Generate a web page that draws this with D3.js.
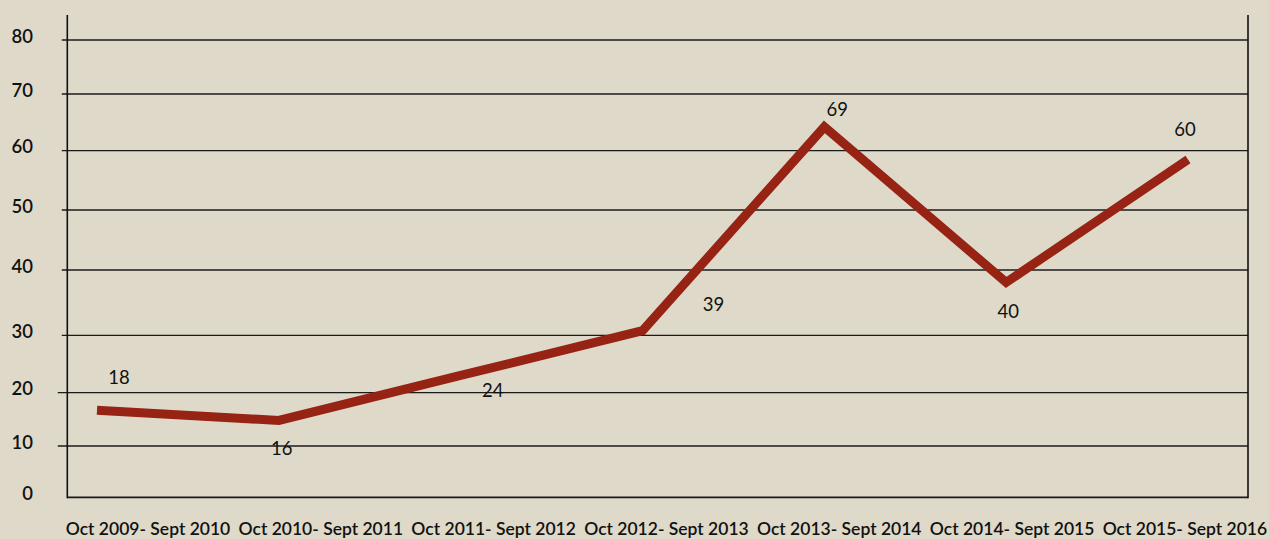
<!DOCTYPE html>
<html>
<head>
<meta charset="utf-8">
<script src="https://cdn.jsdelivr.net/npm/d3@7/dist/d3.min.js"></script>
<style>
  html, body { margin: 0; padding: 0; background: #dfd9c9; }
  svg { display: block; }
  text { font-family: Lato, "Open Sans", sans-serif; fill: #111; }
</style>
</head>
<body>
<svg id="chart" width="1269" height="539"></svg>
<script>
// ---- data ----
const categories = [
  "Oct 2009- Sept 2010", "Oct 2010- Sept 2011", "Oct 2011- Sept 2012",
  "Oct 2012- Sept 2013", "Oct 2013- Sept 2014", "Oct 2014- Sept 2015",
  "Oct 2015- Sept 2016"
];
// plotted positions of the line (as drawn in the picture)
const values = [16.7, 14.8, 23.0, 30.7, 64.2, 38.1, 58.5];
// data labels shown on the chart
const valueLabels = ["18", "16", "24", "39", "69", "40", "60"];
const yTicks = [0, 10, 20, 30, 40, 50, 60, 70, 80];

(function () {
  // ---- layout ----
  const svg = d3.select("#chart");
  const W = 1269, H = 539;
  const plotLeft = 67.3, plotRight = 1248, plotTop = 15, plotBottom = 497.3;

  // the picture's gridlines are unevenly spaced: use a piecewise linear scale
  const y = d3.scaleLinear()
    .domain(yTicks)
    .range([497.3, 446, 392.7, 335.3, 270, 210, 150.7, 94, 40]);

  const xPoint = d3.scalePoint().domain(categories).range([97, 1188]);
  const xBand = d3.scaleBand().domain(categories).range([61.6, 1271.3]);

  svg.append("rect").attr("width", W).attr("height", H).attr("fill", "#dfd9c9");

  // gridlines with ticks
  const tickLen = d => (d === 10 || d === 20) ? 9.5 : (d === 0 ? 0 : 5.5);
  svg.append("g").selectAll("line").data(yTicks).join("line")
    .attr("x1", d => plotLeft - tickLen(d)).attr("x2", plotRight)
    .attr("y1", d => y(d)).attr("y2", d => y(d))
    .attr("stroke", "#1b1b1b").attr("stroke-width", d => d === 0 ? 1.8 : 1.3);

  // y tick labels
  svg.append("g").selectAll("text").data(yTicks).join("text")
    .attr("x", 33).attr("y", d => y(d) - 2)
    .attr("text-anchor", "end").attr("dominant-baseline", "middle")
    .attr("font-size", 18.5).attr("font-weight", 600)
    .text(d => d);

  // left and right vertical lines
  svg.append("line").attr("x1", plotLeft).attr("x2", plotLeft).attr("y1", plotTop).attr("y2", plotBottom + 0.9)
    .attr("stroke", "#111").attr("stroke-width", 1.6);
  svg.append("line").attr("x1", plotRight).attr("x2", plotRight).attr("y1", plotTop).attr("y2", plotBottom + 0.9)
    .attr("stroke", "#111").attr("stroke-width", 1.6);

  // x category labels
  svg.append("g").selectAll("text").data(categories).join("text")
    .attr("x", d => xBand(d) + xBand.bandwidth() / 2).attr("y", 531)
    .attr("text-anchor", "middle").attr("dominant-baseline", "middle")
    .attr("font-size", 17.5).attr("font-weight", 600)
    .text(d => d);

  // line
  const line = d3.line()
    .x((d, i) => xPoint(categories[i]))
    .y(d => y(d));
  svg.append("path").datum(values)
    .attr("d", line)
    .attr("fill", "none").attr("stroke", "#962313")
    .attr("stroke-width", 9).attr("stroke-linejoin", "miter").attr("stroke-linecap", "butt");

  // data labels: offsets from each point (layout)
  const labelOffsets = [[22, -31], [3, 30], [32, 17], [71, -24], [13, -16], [2, 31], [-3, -28]];
  svg.append("g").selectAll("text").data(values).join("text")
    .attr("x", (d, i) => xPoint(categories[i]) + labelOffsets[i][0])
    .attr("y", (d, i) => y(d) + labelOffsets[i][1])
    .attr("text-anchor", "middle").attr("dominant-baseline", "middle")
    .attr("font-size", 18.5)
    .text((d, i) => valueLabels[i]);
})();
</script>
</body>
</html>
